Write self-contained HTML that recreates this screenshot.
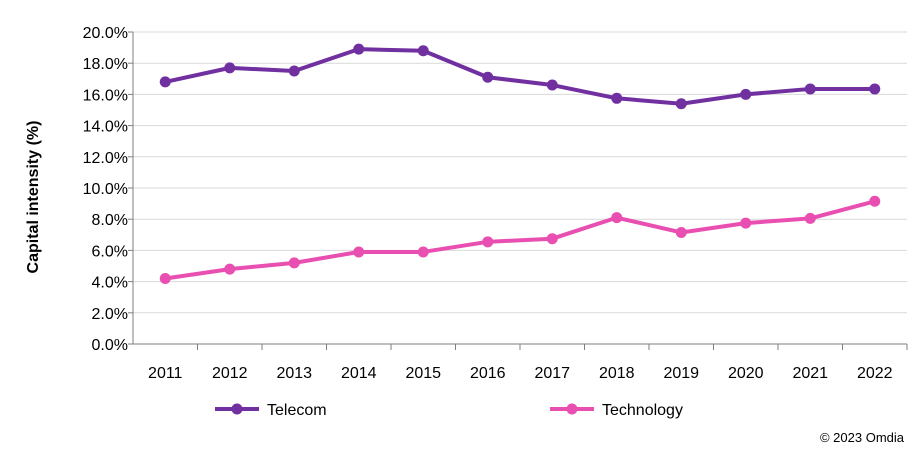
<!DOCTYPE html>
<html><head><meta charset="utf-8"><style>
body{margin:0;background:#fff;width:910px;height:450px;overflow:hidden;font-family:"Liberation Sans",Arial,sans-serif}
</style></head><body>
<svg id="c" width="910" height="450" xmlns="http://www.w3.org/2000/svg"></svg>
<script>
const categories=["2011","2012","2013","2014","2015","2016","2017","2018","2019","2020","2021","2022"];
const telecom=[16.8,17.7,17.5,18.9,18.8,17.1,16.6,15.75,15.4,16.0,16.35,16.35];
const technology=[4.2,4.8,5.2,5.9,5.9,6.55,6.75,8.1,7.15,7.75,8.05,9.15];
const yTicks=[0,2,4,6,8,10,12,14,16,18,20];
const seriesNames=["Telecom","Technology"];
const NS="http://www.w3.org/2000/svg";
const svg=document.getElementById('c');
const L=133,R=907,T=32,B=344;
const bw=(R-L)/categories.length;
const x=i=>L+bw*(i+0.5);
const y=v=>B-(v/20)*(B-T);
function mk(t,a,p){const e=document.createElementNS(NS,t);for(const k in a)e.setAttribute(k,a[k]);(p||svg).appendChild(e);return e;}
yTicks.forEach(v=>{
 if(v>0){const g=mk('line',{x1:L,x2:R,y1:y(v),y2:y(v),stroke:'#d9d9d9','stroke-width':1});
 
 }
 const t=mk('text',{x:L-5,y:y(v)+6,'text-anchor':'end','font-size':16,fill:'#000'});
 t.textContent=v.toFixed(1)+'%';
 
 
 const tk=mk('line',{x1:L-5,x2:L,y1:y(v),y2:y(v),stroke:'#7f7f7f'});
 
 
});
const ya=mk('line',{x1:L,x2:L,y1:T,y2:B,stroke:'#7f7f7f'});


const xa=mk('line',{x1:L,x2:R,y1:B,y2:B,stroke:'#7f7f7f'});


categories.forEach((c,i)=>{
 const tk=mk('line',{x1:L+bw*(i+1),x2:L+bw*(i+1),y1:B,y2:B+6,stroke:'#7f7f7f'});
 
 
 const t=mk('text',{x:x(i),y:378,'text-anchor':'middle','font-size':16});
 t.textContent=c;
 
 
});
const yt=mk('text',{x:0,y:0,transform:'translate(38,197) rotate(-90)','text-anchor':'middle','font-size':16,'font-weight':'bold'});
yt.textContent='Capital intensity (%)';


function series(vals,col,name){
 const p=mk('polyline',{points:vals.map((v,i)=>x(i)+','+y(v)).join(' '),fill:'none',stroke:col,'stroke-width':4,'stroke-linejoin':'round'});
 
 
 vals.forEach((v,i)=>{const c=mk('circle',{cx:x(i),cy:y(v),r:5.5,fill:col});
 
 });
}
series(telecom,'#7030a0','telecom');
series(technology,'#e94fb0','technology');
[[215,'#7030a0',0],[550,'#e94fb0',1]].forEach(([lx,col,k])=>{
 const g=mk('g',{});
 
 
 mk('line',{x1:lx,x2:lx+44,y1:409,y2:409,stroke:col,'stroke-width':4},g);
 mk('circle',{cx:lx+22,cy:409,r:5.5,fill:col},g);
 const t=mk('text',{x:lx+52,y:415,'font-size':16},g);t.textContent=seriesNames[k];
});
const cp=mk('text',{x:904,y:442,'text-anchor':'end','font-size':13});
cp.textContent='© 2023 Omdia';


</script>
</body></html>
